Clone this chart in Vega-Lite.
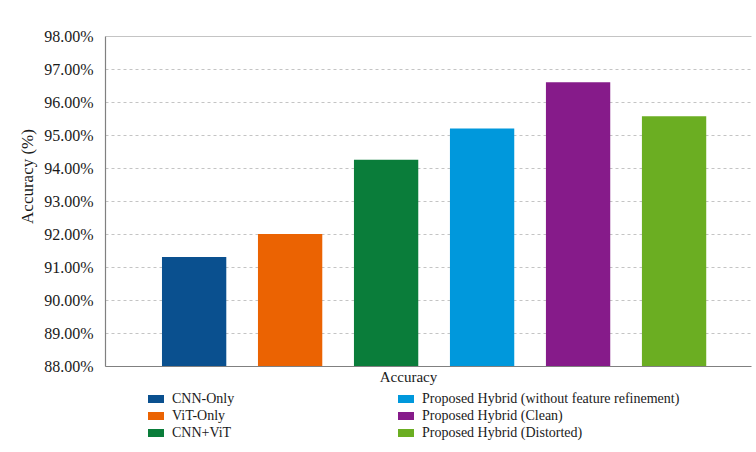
{
  "$schema": "https://vega.github.io/schema/vega-lite/v6.json",
  "width": 646,
  "height": 330,
  "autosize": "none",
  "padding": {"left": 105, "top": 36, "right": 5, "bottom": 86},
  "background": "white",
  "data": {
    "values": [
      {"model": "CNN-Only", "accuracy": 91.3},
      {"model": "ViT-Only", "accuracy": 92.0},
      {"model": "CNN+ViT", "accuracy": 94.25},
      {"model": "Proposed Hybrid (without feature refinement)", "accuracy": 95.2},
      {"model": "Proposed Hybrid (Clean)", "accuracy": 96.6},
      {"model": "Proposed Hybrid (Distorted)", "accuracy": 95.57}
    ]
  },
  "mark": {"type": "bar", "clip": true},
  "encoding": {
    "x": {
      "field": "model",
      "type": "nominal",
      "sort": [
        "CNN-Only",
        "ViT-Only",
        "CNN+ViT",
        "Proposed Hybrid (without feature refinement)",
        "Proposed Hybrid (Clean)",
        "Proposed Hybrid (Distorted)"
      ],
      "scale": {"paddingInner": 0.33, "paddingOuter": 0.53, "align": 0.56},
      "axis": {
        "title": "Accuracy",
        "labels": false,
        "ticks": false,
        "domainColor": "#808080",
        "domainWidth": 1.2,
        "titleFont": "Liberation Serif",
        "titleFontSize": 15,
        "titleFontWeight": "normal",
        "titleColor": "#1a1a1a",
        "titleX": 303,
        "titlePadding": 3
      }
    },
    "y": {
      "field": "accuracy",
      "type": "quantitative",
      "scale": {"domain": [88, 98], "nice": false, "zero": false},
      "axis": {
        "title": "Accuracy (%)",
        "values": [88, 89, 90, 91, 92, 93, 94, 95, 96, 97, 98],
        "labelExpr": "format(datum.value, '.2f') + '%'",
        "labelFont": "Liberation Serif",
        "labelFontSize": 16,
        "labelColor": "#1a1a1a",
        "labelPadding": 12,
        "ticks": false,
        "domainColor": "#808080",
        "domainWidth": 1.2,
        "grid": true,
        "gridColor": "#c4c4c4",
        "gridDash": {"condition": {"test": "datum.value === 98", "value": []}, "value": [3, 3]},
        "titleFont": "Liberation Serif",
        "titleFontSize": 17,
        "titleFontWeight": "normal",
        "titleColor": "#1a1a1a",
        "titleBaseline": "bottom",
        "titleAlign": "center",
        "titleAngle": 270,
        "titleX": -69,
        "titleY": 140
      }
    },
    "color": {
      "field": "model",
      "type": "nominal",
      "scale": {
        "domain": [
          "CNN-Only",
          "ViT-Only",
          "CNN+ViT",
          "Proposed Hybrid (without feature refinement)",
          "Proposed Hybrid (Clean)",
          "Proposed Hybrid (Distorted)"
        ],
        "range": ["#0a508f", "#eb6302", "#0a7d3a", "#0098dc", "#861b8a", "#6bae22"]
      },
      "legend": {
        "title": null,
        "orient": "none",
        "legendX": 43,
        "legendY": 355,
        "columns": 2,
        "columnPadding": 163,
        "rowPadding": 2,
        "symbolType": "M-1,-0.5H1V0.5H-1Z",
        "symbolSize": 256,
        "symbolStrokeWidth": 0,
        "symbolOpacity": 1,
        "labelFont": "Liberation Serif",
        "labelFontSize": 14,
        "labelColor": "#1a1a1a",
        "labelOffset": 8,
        "labelLimit": 400
      }
    }
  },
  "config": {"view": {"stroke": null}}
}
